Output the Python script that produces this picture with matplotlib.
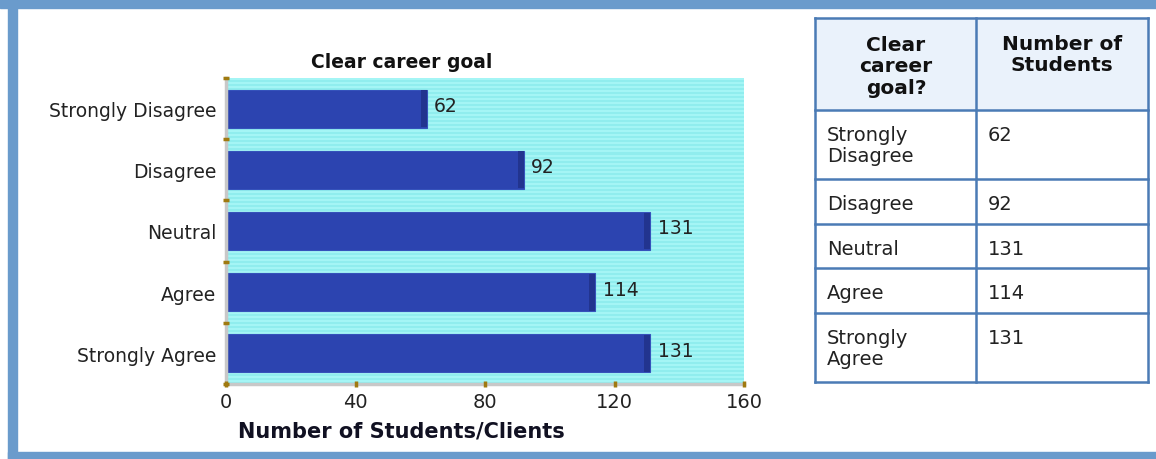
import numpy as np
import matplotlib.pyplot as plt
from matplotlib.patches import Rectangle

W, H = 1156, 460

categories = ['Strongly Disagree', 'Disagree', 'Neutral', 'Agree', 'Strongly Agree']
table_labels = ['Strongly\nDisagree', 'Disagree', 'Neutral', 'Agree', 'Strongly\nAgree']
students = [62, 92, 131, 114, 131]
x_ticks = [0, 40, 80, 120, 160]

BAR = '#2c44b0'
BAR_DARK = '#22348f'
FRAME = '#6a9bcc'
GRID = '#4b7bb5'
TICK = '#a07a10'


def fx(x):
    return x / W


def fy(y):
    return 1 - y / H


fig = plt.figure(figsize=(W / 100, H / 100), dpi=100)

# outer blue frame
fig.patches.append(Rectangle((0, fy(9)), 1, fy(0) - fy(9), transform=fig.transFigure, color=FRAME, zorder=0))
fig.patches.append(Rectangle((fx(8), 0), fx(9), 1, transform=fig.transFigure, color=FRAME, zorder=0))
fig.patches.append(Rectangle((fx(8), 0), 1, fy(453), transform=fig.transFigure, color=FRAME, zorder=0))

# chart
ax = fig.add_axes([fx(226), fy(385), fx(744) - fx(226), fy(79) - fy(385)])
ypos = np.arange(len(categories))

# striped cyan background
stripes = np.array([[0.565, 0.933, 0.937], [0.647, 0.961, 0.961]])
bg = np.tile(stripes, (76, 1)).reshape(-1, 1, 3)
ax.imshow(bg, extent=[0, 160, -0.5, 4.5], aspect='auto', interpolation='nearest', zorder=0)

ax.barh(ypos, students, height=0.62, color=BAR, edgecolor='#3552bb', linewidth=0.8, zorder=2)
ax.barh(ypos, [1.8] * len(students), left=[v - 1.8 for v in students], height=0.6,
        color=BAR_DARK, linewidth=0, zorder=3)
for y, v in zip(ypos, students):
    ax.text(v + 2.3, y - 0.05, str(v), va='center', ha='left', fontsize=13.5, color='#222222', zorder=4)

ax.set_xlim(0, 160)
ax.set_ylim(4.5, -0.5)
ax.set_xticks(x_ticks)
ax.set_yticks(ypos)
ax.set_yticklabels(categories, fontsize=13.5, color='#222222')
ax.set_yticks(np.arange(-0.5, 5, 1), minor=True)
ax.tick_params(axis='x', labelsize=14, labelcolor='#222222', length=5, width=2.5,
               color=TICK, direction='inout', pad=3)
ax.tick_params(axis='y', which='major', length=0, pad=7)
ax.tick_params(axis='y', which='minor', length=5, width=2.5, color=TICK, direction='inout')
for s in ['top', 'right']:
    ax.spines[s].set_visible(False)
for s in ['left', 'bottom']:
    ax.spines[s].set_color('#c8c8c8')
    ax.spines[s].set_linewidth(2.5)
    ax.spines[s].set_zorder(3.5)
ax.xaxis.set_zorder(4)
ax.yaxis.set_zorder(4)

fig.text(fx(402), fy(62), 'Clear career goal', ha='center', va='center', fontsize=13.5,
         fontweight='bold', color='#111111')
fig.text(fx(401), fy(432), 'Number of Students/Clients', ha='center', va='center', fontsize=15,
         fontweight='bold', color='#111122')

# table on the right
tx0, tx1, tx2 = 815, 976, 1148
row_edges = [19, 111, 180, 225, 269, 314, 383]
fig.patches.append(Rectangle((fx(tx0), fy(row_edges[1])), fx(tx2 - tx0), fy(row_edges[0]) - fy(row_edges[1]),
                             transform=fig.transFigure, color='#eaf2fb', zorder=1))
for ye in row_edges:
    fig.add_artist(plt.Line2D([fx(tx0), fx(tx2)], [fy(ye), fy(ye)], color=GRID, lw=1.8))
for xe in [tx0, tx1, tx2]:
    fig.add_artist(plt.Line2D([fx(xe), fx(xe)], [fy(row_edges[0]), fy(row_edges[-1])], color=GRID, lw=1.8))

fig.text(fx(896), fy(67), 'Clear\ncareer\ngoal?', ha='center', va='center', fontsize=14.5,
         fontweight='bold', color='#111111', linespacing=1.15)
fig.text(fx(1062), fy(55), 'Number of\nStudents', ha='center', va='center', fontsize=14.5,
         fontweight='bold', color='#111111', linespacing=1.15)
for i, (lab, v) in enumerate(zip(table_labels, students)):
    top = row_edges[i + 1] + 15
    fig.text(fx(827), fy(top), lab, ha='left', va='top', fontsize=14, color='#222222', linespacing=1.15)
    fig.text(fx(988), fy(top), str(v), ha='left', va='top', fontsize=14, color='#222222')

fig.savefig('out.png', dpi=100)
